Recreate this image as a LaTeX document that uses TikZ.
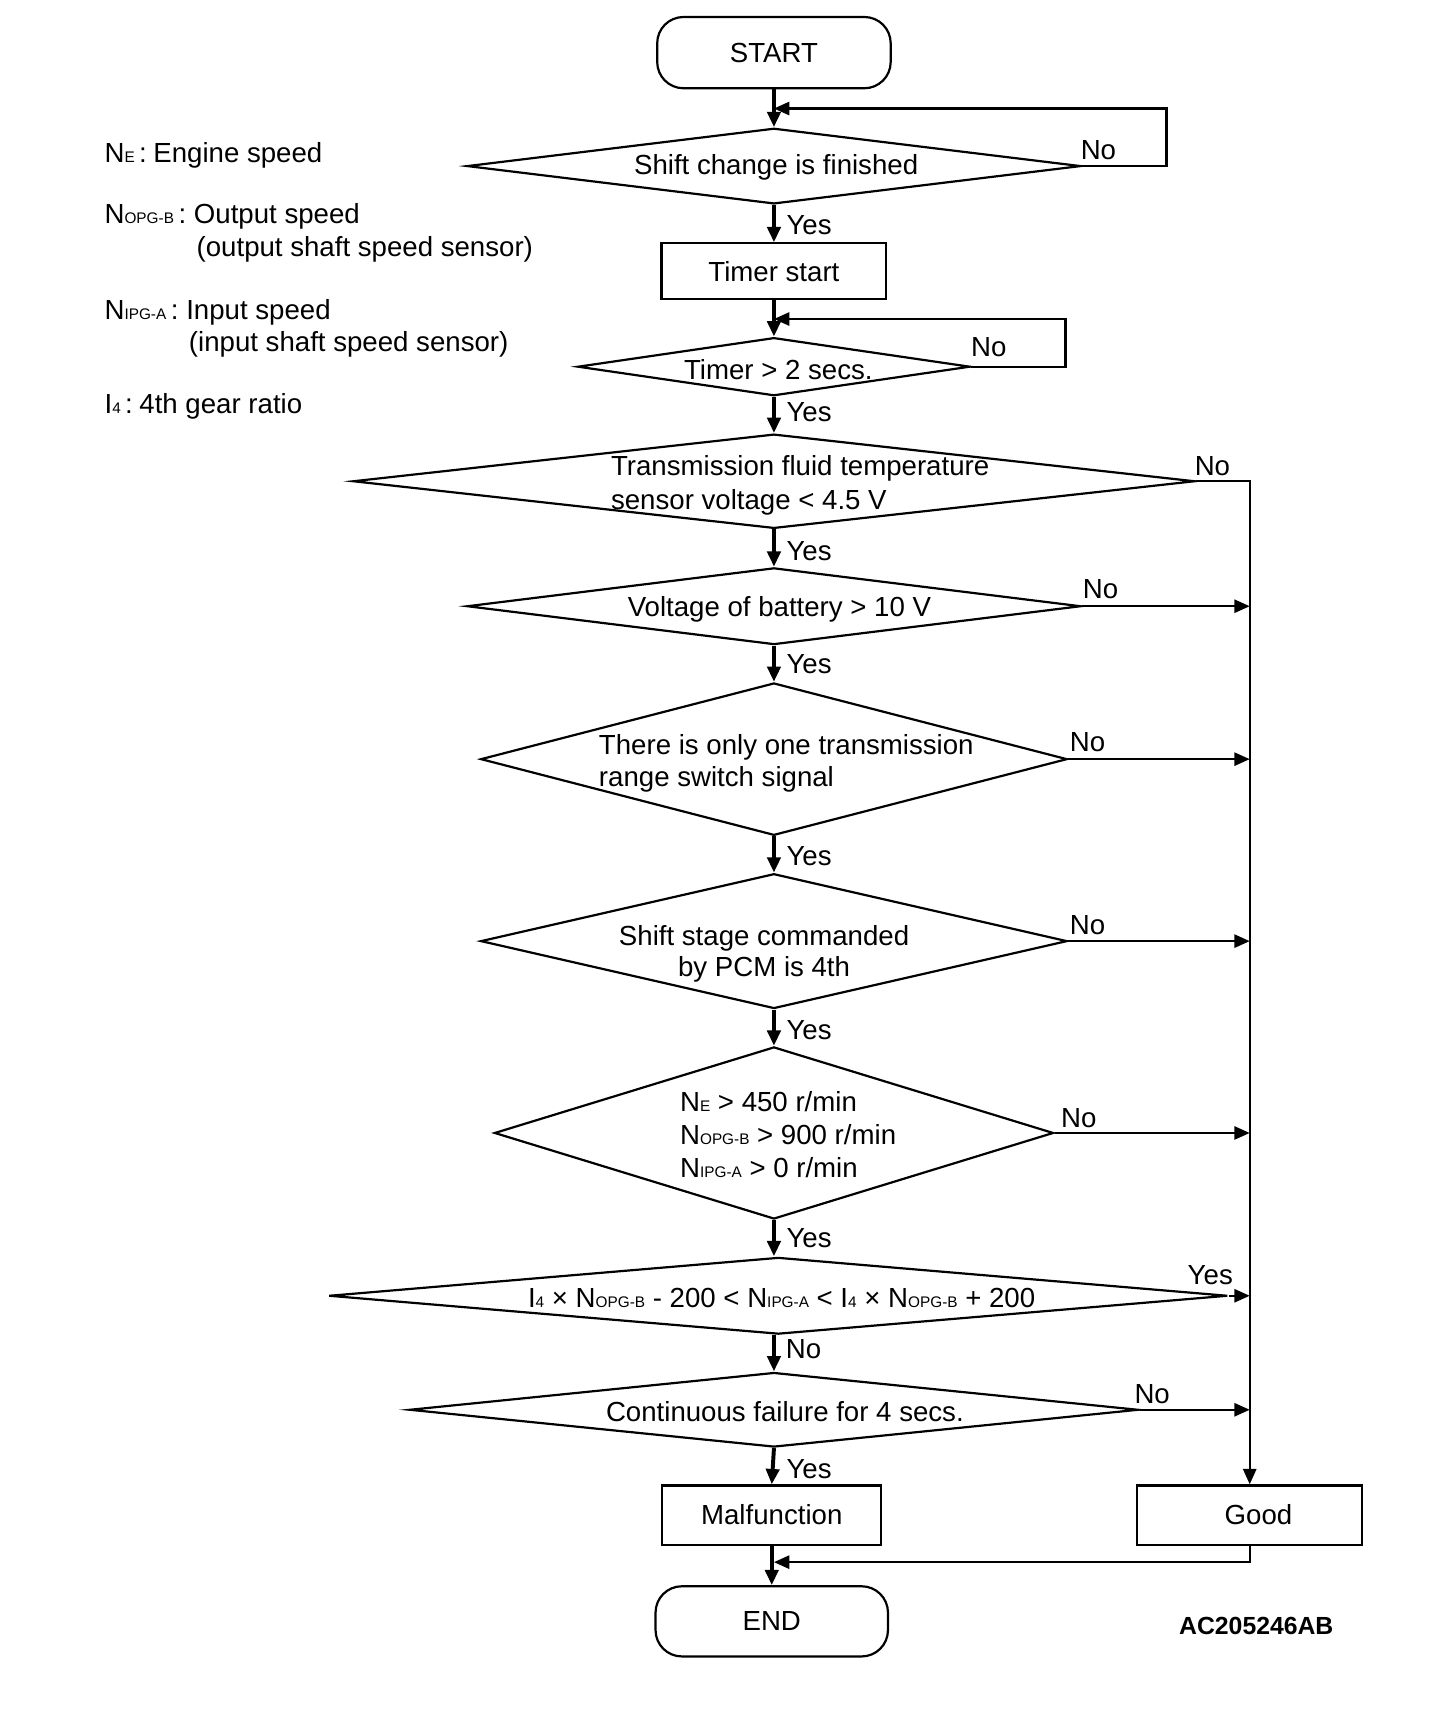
\documentclass[tikz,border=0pt]{standalone}
\usepackage{fontspec}
\setmainfont{Liberation Sans}
\usetikzlibrary{shapes.geometric,arrows.meta}
\newcommand{\smsub}[1]{{\fontsize{7pt}{8pt}\selectfont #1}}
\begin{document}
\begin{tikzpicture}[x=0.5pt,y=-0.5pt,
  every node/.style={font=\fontsize{12.6pt}{15.2pt}\selectfont},
  dia/.style={draw, shape=diamond, line width=1pt, inner sep=0pt},
  box/.style={draw, rectangle, line width=1pt, inner sep=0pt},
  term/.style={draw, rectangle, rounded corners=12pt, line width=1pt, inner sep=0pt},
  txt/.style={inner sep=0pt},
  lbl/.style={inner sep=0pt},
  leg/.style={inner sep=0pt, anchor=base west},
  main/.style={line width=1.8pt, -{Triangle[length=7pt,width=6pt]}},
  side/.style={line width=1pt, -{Triangle[length=7pt,width=6pt]}},
  plain/.style={line width=1pt}]
\useasboundingbox (0,0) rectangle (1328,1569);

% legend
\node[leg] (l1) at (95,148) {N\smsub{E}\hspace{2pt}:\hspace{3pt}Engine speed};
\node[leg] (l2) at (95,204) {N\smsub{OPG-B}\,: Output speed};
\node[leg] (l2b) at (179,234) {(output shaft speed sensor)};
\node[leg] (l3) at (95,291) {N\smsub{IPG-A}\,: Input speed};
\node[leg] (l3b) at (172,321) {(input shaft speed sensor)};
\node[leg] (l4) at (95,377) {I\smsub{4}\hspace{2pt}:\hspace{3pt}4th gear ratio};

% shapes
\node[term, minimum width=106.5pt, minimum height=32.5pt] (start) at (706,48) {START};
\node[dia, minimum width=280pt, minimum height=34.5pt] (d1) at (706,151.5) {};
\node[txt] (t1) at (708,153) {Shift change is finished};
\node[box, minimum width=102.5pt, minimum height=25.5pt] (timer) at (706,247.5) {Timer start};
\node[dia, minimum width=179pt, minimum height=26.5pt] (d2) at (706,334.5) {};
\node[txt] (t2) at (710,337) {Timer > 2 secs.};
\node[dia, minimum width=384pt, minimum height=43pt] (d3) at (706,439) {};
\node[txt, anchor=west, align=left, font=\fontsize{12.6pt}{15.5pt}\selectfont] (t3) at (557,443) {Transmission fluid temperature\\sensor voltage < 4.5 V};
\node[dia, minimum width=280pt, minimum height=35pt] (d4) at (706,553) {};
\node[txt] (t4) at (711,556) {Voltage of battery > 10 V};
\node[dia, minimum width=267.5pt, minimum height=69.5pt] (d5) at (706,692.5) {};
\node[txt, anchor=west, align=left, font=\fontsize{12.6pt}{14.5pt}\selectfont] (t5) at (546,696) {There is only one transmission\\range switch signal};
\node[dia, minimum width=267.5pt, minimum height=61.5pt] (d6) at (706,858.5) {};
\node[txt, align=center, font=\fontsize{12.6pt}{14pt}\selectfont] (t6) at (697,870) {Shift stage commanded\\by PCM is 4th};
\node[dia, minimum width=255pt, minimum height=78.5pt] (d7) at (706,1033.5) {};
\node[txt, anchor=west, align=left, font=\fontsize{12.6pt}{15.2pt}\selectfont] (t7) at (620,1035) {N\smsub{E} > 450 r/min\\N\smsub{OPG-B} > 900 r/min\\N\smsub{IPG-A} > 0 r/min};
\node[dia, minimum width=410pt, minimum height=35pt] (d8) at (710,1182) {};
\node[txt] (t8) at (713,1184) {I\smsub{4} × N\smsub{OPG-B} - 200 < N\smsub{IPG-A} < I\smsub{4} × N\smsub{OPG-B} + 200};
\node[dia, minimum width=332.5pt, minimum height=34pt] (d9) at (706,1286) {};
\node[txt] (t9) at (716,1288) {Continuous failure for 4 secs.};
\node[box, minimum width=100pt, minimum height=27pt] (malf) at (704,1382) {Malfunction};
\node[box, minimum width=102.5pt, minimum height=27pt] (good) at (1140,1382) {\hspace{8pt}Good};
\node[term, minimum width=106pt, minimum height=32pt] (end) at (704,1479) {END};
\node[txt, font=\fontsize{11.3pt}{13pt}\selectfont\bfseries] (code) at (1146,1483) {AC205246AB};

% coordinates
\coordinate (j1) at (706,99);
\coordinate (lp1) at (1064,99);
\coordinate (j2) at (706,291);
\coordinate (lp2) at (972,291);
\coordinate (r3) at (d3.east -| good.north);
\coordinate (r4) at (d4.east -| good.north);
\coordinate (r5) at (d5.east -| good.north);
\coordinate (r6) at (d6.east -| good.north);
\coordinate (r7) at (d7.east -| good.north);
\coordinate (r8) at (d8.east -| good.north);
\coordinate (r9) at (d9.east -| good.north);
\coordinate (j3) at (706,1425);

% main flow
\draw[main] (start.south) -- (d1.north);
\draw[side] (d1.east) -| (lp1) -- (j1);
\draw[main] (d1.south) -- (timer.north);
\draw[main] (timer.south) -- (d2.north);
\draw[side] (d2.east) -| (lp2) -- (j2);
\draw[main] (d2.south) -- (d3.north);
\draw[main] (d3.south) -- (d4.north);
\draw[main] (d4.south) -- (d5.north);
\draw[main] (d5.south) -- (d6.north);
\draw[main] (d6.south) -- (d7.north);
\draw[main] (d7.south) -- (d8.north -| d7.south);
\draw[main] (d8.south -| d9.north) -- (d9.north);
\draw[main] (d9.south) -- (malf.north);
\draw[main] (malf.south) -- (end.north);

% right column
\draw[side] (d3.east) -- (r3) -- (good.north);
\draw[side] (d4.east) -- (r4);
\draw[side] (d5.east) -- (r5);
\draw[side] (d6.east) -- (r6);
\draw[side] (d7.east) -- (r7);
\draw[side] (d8.east) -- (r8);
\draw[side] (d9.east) -- (r9);
\draw[side] (good.south) |- (j3);

% labels
\node[lbl] (n1) at (1002,137) {No};
\node[lbl] (n2) at (902,317) {No};
\node[lbl] (n3) at (1106,425) {No};
\node[lbl] (n4) at (1004,537) {No};
\node[lbl] (n5) at (992,677) {No};
\node[lbl] (n6) at (992,844) {No};
\node[lbl] (n7) at (984,1020) {No};
\node[lbl] (y8) at (1104,1163) {Yes};
\node[lbl] (n8) at (733,1231) {No};
\node[lbl] (n9) at (1051,1272) {No};
\node[lbl] (y1) at (738,205) {Yes};
\node[lbl] (y2) at (738,376) {Yes};
\node[lbl] (y3) at (738,503) {Yes};
\node[lbl] (y4) at (738,606) {Yes};
\node[lbl] (y5) at (738,781) {Yes};
\node[lbl] (y6) at (738,940) {Yes};
\node[lbl] (y7) at (738,1129) {Yes};
\node[lbl] (y9) at (738,1340) {Yes};
\end{tikzpicture}
\end{document}
